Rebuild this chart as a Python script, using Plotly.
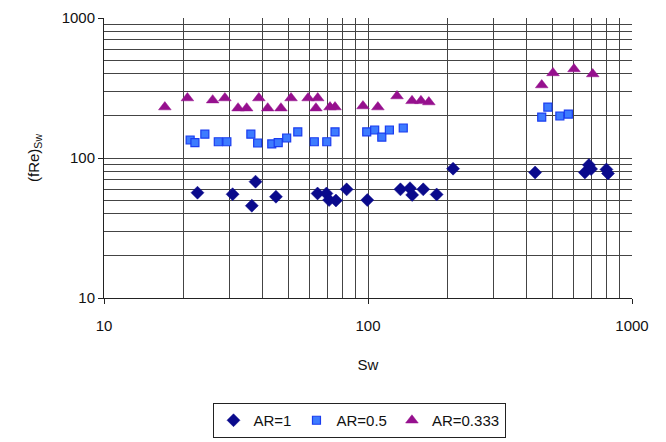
import plotly.graph_objects as go

# Sw and (fRe)Sw for each aspect ratio
sw_ar1 = [22.6, 30.7, 37.5, 36.3, 44.8, 64.4, 69.6, 71.2, 75.6, 83.0, 99.4,
          132.7, 144.2, 147.0, 161.9, 182.0, 210.0, 429.5, 663.0, 687.0, 700.0,
          800.0, 811.0]
fre_ar1 = [56.5, 55.1, 67.8, 45.6, 52.9, 55.8, 55.8, 50.1, 49.7, 59.7, 50.1,
           59.7, 60.8, 54.5, 59.7, 54.9, 83.9, 78.8, 78.8, 89.1, 83.4,
           82.8, 77.5]

sw_ar05 = [21.2, 22.1, 24.1, 27.1, 29.2, 36.0, 38.2, 43.2, 45.7, 49.2, 54.2,
           62.6, 69.8, 75.0, 98.9, 106.0, 112.8, 120.5, 136.0, 455.0, 480.0,
           533.0, 574.0]
fre_ar05 = [134.5, 128.6, 148.0, 130.6, 130.6, 148.0, 128.0, 126.0, 128.6, 139.0,
            153.5, 130.6, 130.6, 153.5, 153.5, 158.5, 141.0, 158.5, 163.8, 196.0,
            231.0, 199.5, 206.0]

sw_ar0333 = [17.0, 20.7, 25.8, 28.7, 32.2, 34.7, 38.6, 41.7, 46.8, 51.1, 59.3,
             64.5, 63.5, 71.8, 75.0, 95.7, 109.0, 128.8, 146.8, 158.7, 170.0,
             455.0, 502.0, 603.0, 710.0]
fre_ar0333 = [231.0, 268.0, 259.0, 268.0, 227.0, 227.0, 268.0, 227.0, 227.0, 268.0, 268.0,
              268.0, 227.0, 231.0, 231.0, 235.0, 231.0, 277.0, 256.0, 256.0, 251.0,
              332.0, 405.0, 432.0, 398.0]

grid_color = "#444444"
font_family = "Liberation Sans, Arial, sans-serif"

fig = go.Figure()
fig.add_trace(go.Scatter(
    x=sw_ar1, y=fre_ar1, mode="markers", name="AR=1",
    marker=dict(symbol="diamond", size=10, color="#0a0a8c",
                line=dict(color="#0a0a8c", width=0.5)),
))
fig.add_trace(go.Scatter(
    x=sw_ar05, y=fre_ar05, mode="markers", name="AR=0.5",
    marker=dict(symbol="square", size=8, color="#3d7bff",
                line=dict(color="#1a3cf0", width=1.2)),
))
fig.add_trace(go.Scatter(
    x=sw_ar0333, y=fre_ar0333, mode="markers", name="AR=0.333",
    marker=dict(symbol="triangle-up", size=11, color="#96108e",
                line=dict(color="#96108e", width=0.5)),
))

fig.update_layout(
    width=666, height=442,
    margin=dict(l=104, r=34, t=18, b=144, autoexpand=False),
    paper_bgcolor="white", plot_bgcolor="white",
    font=dict(family=font_family, size=15, color="#111111"),
    showlegend=True,
    legend=dict(
        orientation="h", x=0.483, xanchor="center", y=-0.5, yanchor="bottom",
        bordercolor="#222222", borderwidth=1, font=dict(size=15),
        itemwidth=30, tracegroupgap=0,
    ),
)

fig.update_xaxes(
    type="log", range=[1, 3], automargin=False,
    tickvals=[10, 100, 1000], ticktext=["10", "100", "1000"],
    ticks="outside", ticklen=5, tickcolor="#222222",
    ticklabelstandoff=9,
    showline=True, linecolor="#222222", linewidth=1,
    showgrid=True, gridcolor=grid_color, gridwidth=1,
    minor=dict(dtick="D1", showgrid=True, gridcolor=grid_color, gridwidth=1),
    zeroline=False,
    title=dict(text="Sw", standoff=26, font=dict(size=15)),
    tickfont=dict(size=15),
)
fig.update_yaxes(
    type="log", range=[1, 3], automargin=False,
    tickvals=[10, 100, 1000], ticktext=["10", "100", "1000"],
    ticks="outside", ticklen=5, tickcolor="#222222",
    showline=True, linecolor="#222222", linewidth=1,
    showgrid=True, gridcolor=grid_color, gridwidth=1,
    minor=dict(dtick="D1", showgrid=True, gridcolor=grid_color, gridwidth=1),
    zeroline=False,
    title=dict(text="(fRe)<sub>Sw</sub>", standoff=18, font=dict(size=15)),
    tickfont=dict(size=15),
)

fig.write_html("out.html")
